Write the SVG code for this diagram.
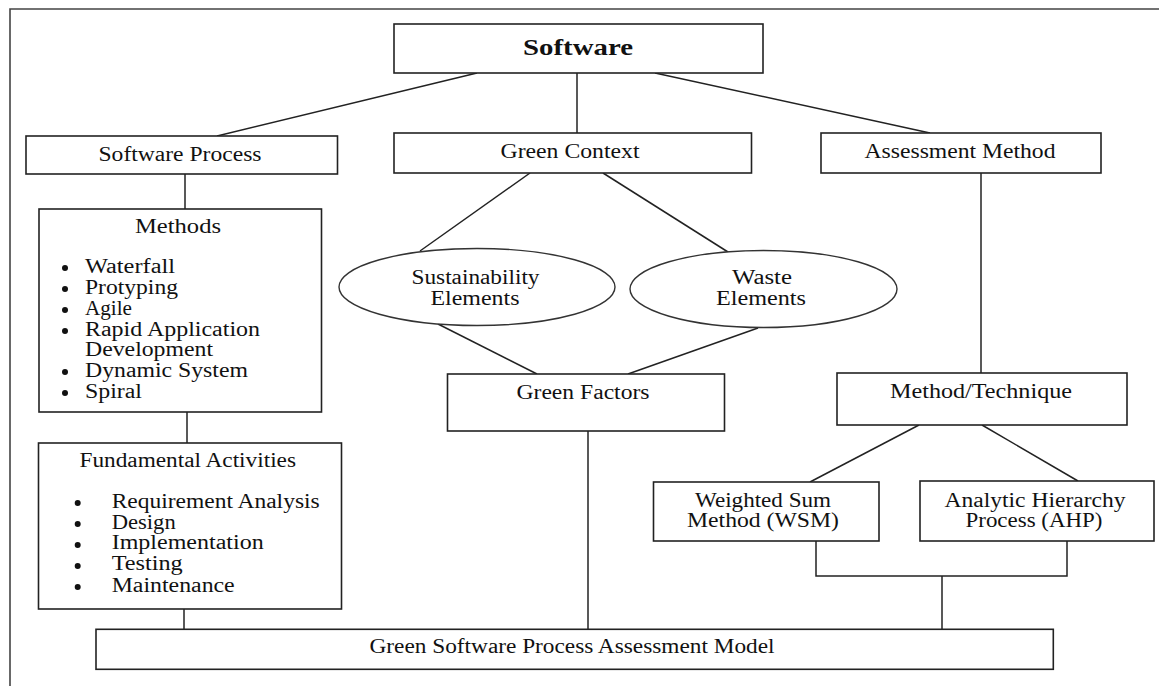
<svg xmlns="http://www.w3.org/2000/svg" width="1159" height="686" viewBox="0 0 1159 686">
<style>
.box{fill:#fff;stroke:#222;stroke-width:1.6}
.ell{fill:#fff;stroke:#333;stroke-width:1.4}
.con{fill:none;stroke:#222;stroke-width:1.5}
.frame{fill:none;stroke:#444;stroke-width:1.6}
text{font-family:"Liberation Serif","Times New Roman",serif;font-size:20px;fill:#111}
.c{text-anchor:middle}
.b{font-weight:bold;font-size:24px}
.dot{fill:#111}
</style>
<rect width="1159" height="686" fill="#fff"/>
<g id="frame"><path class="frame" d="M10,686 V9 H1159"/></g>
<g id="connectors">
<line class="con" x1="477" y1="73" x2="217" y2="136"/>
<line class="con" x1="577" y1="73" x2="577" y2="133"/>
<line class="con" x1="655" y1="73" x2="930" y2="133"/>
<line class="con" x1="185" y1="174" x2="185" y2="209"/>
<line class="con" x1="187" y1="412" x2="187" y2="443"/>
<line class="con" x1="184" y1="609" x2="184" y2="629"/>
<line class="con" x1="530" y1="173" x2="420" y2="251"/>
<line class="con" x1="603" y1="173" x2="728" y2="252"/>
<line class="con" x1="438" y1="324" x2="537" y2="374"/>
<line class="con" x1="758" y1="328" x2="628" y2="374"/>
<line class="con" x1="588" y1="431" x2="588" y2="629"/>
<line class="con" x1="981" y1="173" x2="981" y2="373"/>
<line class="con" x1="919" y1="425" x2="810" y2="482"/>
<line class="con" x1="982" y1="425" x2="1078" y2="481"/>
<path class="con" d="M816,541 V576 H1067 V541"/>
<line class="con" x1="942" y1="576" x2="942" y2="629"/>
</g>
<g id="software">
<rect class="box" x="394" y="24" width="369" height="49"/>
<text class="c b" x="578" y="55" textLength="110" lengthAdjust="spacingAndGlyphs">Software</text>
</g>
<g id="software-process">
<rect class="box" x="26" y="136" width="311.5" height="38"/>
<text class="c" x="180" y="161" textLength="163" lengthAdjust="spacingAndGlyphs">Software Process</text>
</g>
<g id="green-context">
<rect class="box" x="394" y="133" width="357.5" height="40"/>
<text class="c" x="570" y="158" textLength="139" lengthAdjust="spacingAndGlyphs">Green Context</text>
</g>
<g id="assessment-method">
<rect class="box" x="821" y="133" width="280" height="40"/>
<text class="c" x="960" y="158" textLength="191" lengthAdjust="spacingAndGlyphs">Assessment Method</text>
</g>
<g id="methods">
<rect class="box" x="39" y="209" width="282.5" height="203"/>
<text class="c" x="178" y="233" textLength="86" lengthAdjust="spacingAndGlyphs">Methods</text>
<circle class="dot" cx="65" cy="268" r="3"/>
<circle class="dot" cx="65" cy="289" r="3"/>
<circle class="dot" cx="65" cy="310" r="3"/>
<circle class="dot" cx="65" cy="331" r="3"/>
<circle class="dot" cx="65" cy="372" r="3"/>
<circle class="dot" cx="65" cy="393" r="3"/>
<text x="85" y="273" textLength="90" lengthAdjust="spacingAndGlyphs">Waterfall</text>
<text x="85" y="294" textLength="93" lengthAdjust="spacingAndGlyphs">Protyping</text>
<text x="85" y="314.5" textLength="47" lengthAdjust="spacingAndGlyphs">Agile</text>
<text x="85" y="335.5" textLength="175" lengthAdjust="spacingAndGlyphs">Rapid Application</text>
<text x="85" y="356" textLength="128" lengthAdjust="spacingAndGlyphs">Development</text>
<text x="85" y="377" textLength="163" lengthAdjust="spacingAndGlyphs">Dynamic System</text>
<text x="85" y="397.5" textLength="57" lengthAdjust="spacingAndGlyphs">Spiral</text>
</g>
<g id="fundamental-activities">
<rect class="box" x="38.5" y="443" width="303" height="166"/>
<text x="79.5" y="467" textLength="216.5" lengthAdjust="spacingAndGlyphs">Fundamental Activities</text>
<circle class="dot" cx="77.7" cy="503" r="3"/>
<circle class="dot" cx="77.7" cy="524" r="3"/>
<circle class="dot" cx="77.7" cy="545" r="3"/>
<circle class="dot" cx="77.7" cy="566" r="3"/>
<circle class="dot" cx="77.7" cy="587" r="3"/>
<text x="111.7" y="507.5" textLength="208" lengthAdjust="spacingAndGlyphs">Requirement Analysis</text>
<text x="111.7" y="528.5" textLength="64" lengthAdjust="spacingAndGlyphs">Design</text>
<text x="111.7" y="549" textLength="152" lengthAdjust="spacingAndGlyphs">Implementation</text>
<text x="111.7" y="570" textLength="71" lengthAdjust="spacingAndGlyphs">Testing</text>
<text x="111.7" y="591.5" textLength="123" lengthAdjust="spacingAndGlyphs">Maintenance</text>
</g>
<g id="sustainability-elements">
<ellipse class="ell" cx="477" cy="287" rx="138" ry="38.5"/>
<text class="c" x="475.5" y="284" textLength="128" lengthAdjust="spacingAndGlyphs">Sustainability</text>
<text class="c" x="475" y="304.5" textLength="89" lengthAdjust="spacingAndGlyphs">Elements</text>
</g>
<g id="waste-elements">
<ellipse class="ell" cx="763.5" cy="289" rx="133.5" ry="38.5"/>
<text class="c" x="762" y="284" textLength="60" lengthAdjust="spacingAndGlyphs">Waste</text>
<text class="c" x="761" y="304.5" textLength="90" lengthAdjust="spacingAndGlyphs">Elements</text>
</g>
<g id="green-factors">
<rect class="box" x="447.5" y="374" width="277" height="57"/>
<text class="c" x="583" y="399" textLength="133" lengthAdjust="spacingAndGlyphs">Green Factors</text>
</g>
<g id="method-technique">
<rect class="box" x="837" y="373" width="290" height="52"/>
<text class="c" x="981" y="397.5" textLength="182" lengthAdjust="spacingAndGlyphs">Method/Technique</text>
</g>
<g id="wsm">
<rect class="box" x="653.5" y="482" width="225.5" height="59"/>
<text class="c" x="763" y="507" textLength="136" lengthAdjust="spacingAndGlyphs">Weighted Sum</text>
<text class="c" x="763" y="527" textLength="152" lengthAdjust="spacingAndGlyphs">Method (WSM)</text>
</g>
<g id="ahp">
<rect class="box" x="920" y="481" width="234" height="60"/>
<text class="c" x="1035" y="506.5" textLength="181" lengthAdjust="spacingAndGlyphs">Analytic Hierarchy</text>
<text class="c" x="1034" y="527" textLength="137" lengthAdjust="spacingAndGlyphs">Process (AHP)</text>
</g>
<g id="gspam">
<rect class="box" x="96" y="629.3" width="957.3" height="40"/>
<text class="c" x="572" y="653" textLength="405" lengthAdjust="spacingAndGlyphs">Green Software Process Assessment Model</text>
</g>
</svg>
